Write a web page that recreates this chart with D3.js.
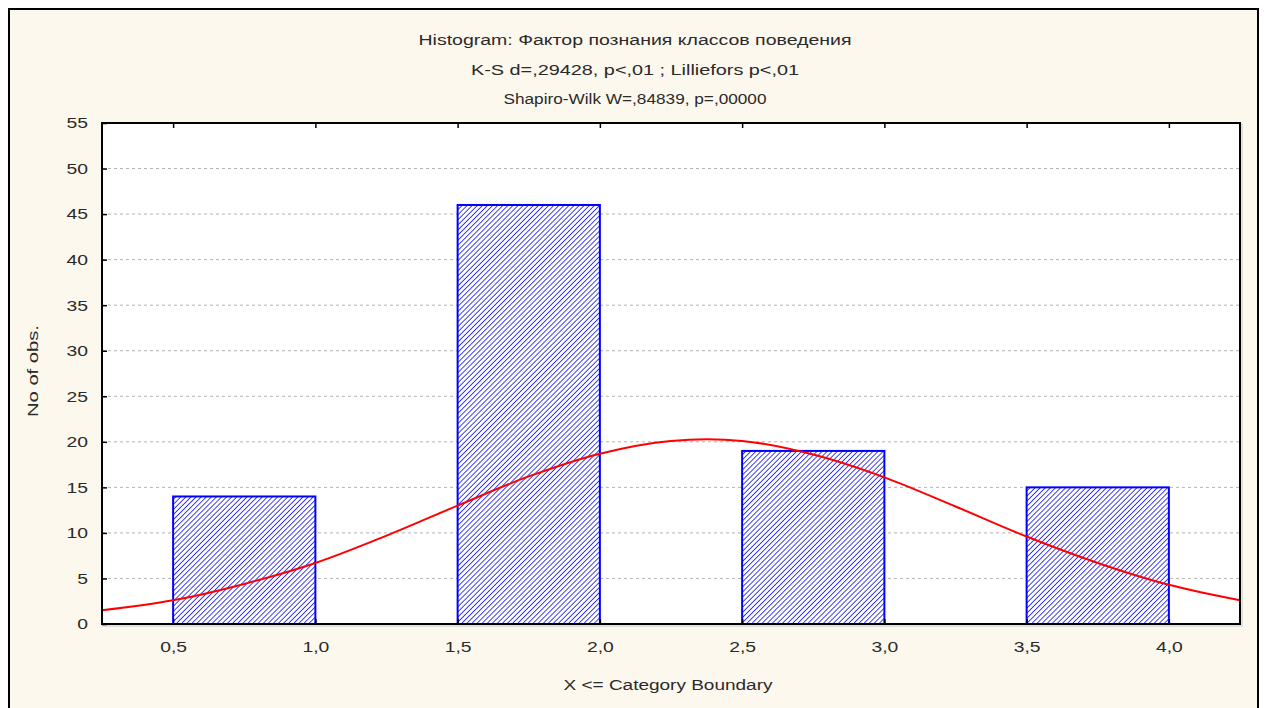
<!DOCTYPE html>
<html><head><meta charset="utf-8">
<script src="https://cdn.jsdelivr.net/npm/d3@7"></script>
<style>
html,body{margin:0;padding:0;background:#fff;}
text{font-family:"Liberation Sans",Arial,sans-serif;fill:#2a2a2a;}
</style></head>
<body>
<svg id="chart" width="1270" height="708"></svg>
<script>
// ---- data ----
const binLower = [0.5, 1.5, 2.5, 3.5];
const binUpper = [1.0, 2.0, 3.0, 4.0];
const counts = [14, 46, 19, 15];
// expected normal curve
const curveX = [0.25,0.5,0.75,1.0,1.25,1.5,1.75,2.0,2.25,2.5,2.75,3.0,3.25,3.5,3.75,4.0,4.25];
const curveY = [1.5,2.6,4.4,6.7,9.7,13.0,16.2,18.7,20.1,20.1,18.6,16.1,12.9,9.6,6.7,4.3,2.6];
const xTicks = [0.5,1.0,1.5,2.0,2.5,3.0,3.5,4.0];
const yTicks = [0,5,10,15,20,25,30,35,40,45,50,55];
const titles = ["Histogram: Фактор познания классов поведения",
                "K-S d=,29428, p<,01 ; Lilliefors p<,01",
                "Shapiro-Wilk W=,84839, p=,00000"];
const xLabel = "X <= Category Boundary";
const yLabel = "No of obs.";

const svg = d3.select("#chart");
const L = 102, R = 1240, T = 123, B = 624;
const SX = 1.38; // horizontal text stretch

// outer panel
svg.append("rect").attr("x",9).attr("y",9).attr("width",1249).attr("height",720)
  .attr("fill","#fdf8ee").attr("stroke","#000").attr("stroke-width",2);

const x = d3.scaleLinear().domain([0.25,4.25]).range([L,R]);
const y = d3.scaleLinear().domain([0,55]).range([B,T]);

// plot background
svg.append("rect").attr("x",L+1).attr("y",T+1).attr("width",R-L+1).attr("height",B-T+1)
  .attr("fill","none").attr("stroke","#c8c8c8").attr("stroke-width",1);
svg.append("rect").attr("x",L).attr("y",T).attr("width",R-L).attr("height",B-T).attr("fill","#fff");

// gridlines
svg.append("g").selectAll("line").data(yTicks.filter(d=>d>0 && d<55)).join("line")
  .attr("x1",L).attr("x2",R).attr("y1",d=>y(d)).attr("y2",d=>y(d))
  .attr("stroke","#b4b4b4").attr("stroke-width",1).attr("stroke-dasharray","3,3");

// hatch pattern
const defs = svg.append("defs");
const pat = defs.append("pattern").attr("id","hatch").attr("patternUnits","userSpaceOnUse")
  .attr("width",3.6).attr("height",3.6).attr("patternTransform","rotate(45)");
pat.append("rect").attr("width",3.6).attr("height",3.6).attr("fill","#fff");
pat.append("line").attr("x1",0).attr("y1",0).attr("x2",0).attr("y2",3.6)
  .attr("stroke","#1010f0").attr("stroke-width",1.6);

// bars
svg.append("g").selectAll("rect").data(counts).join("rect")
  .attr("x",(d,i)=>x(binLower[i])).attr("width",(d,i)=>x(binUpper[i])-x(binLower[i]))
  .attr("y",d=>y(d)).attr("height",d=>y(0)-y(d))
  .attr("fill","url(#hatch)").attr("stroke","#0000ff").attr("stroke-width",2);

// normal curve
const pts = curveX.map((v,i)=>[v,curveY[i]]);
svg.append("path").datum(pts)
  .attr("d",d3.line().x(d=>x(d[0])).y(d=>y(d[1])).curve(d3.curveCatmullRom))
  .attr("fill","none").attr("stroke","#ff0000").attr("stroke-width",2);

// axes
const yAxis = svg.append("g").attr("transform",`translate(${L},0)`)
  .call(d3.axisLeft(y).tickValues(yTicks).tickSize(-5).tickPadding(14).tickFormat(d3.format("d")));
yAxis.select(".domain").remove();
yAxis.selectAll(".tick line").attr("stroke","#000").attr("stroke-width",1.5);
yAxis.selectAll(".tick text").attr("x",null).attr("dy","0.35em")
  .attr("text-anchor","end").attr("font-size",14)
  .attr("transform",`translate(-14,0) scale(${SX},1)`);

const fmt = d => d.toFixed(1).replace(".",",");
const xAxis = svg.append("g").attr("transform",`translate(0,${B})`)
  .call(d3.axisBottom(x).tickValues(xTicks).tickSize(-5).tickPadding(18).tickFormat(fmt));
xAxis.select(".domain").remove();
xAxis.selectAll(".tick line").attr("stroke","#000").attr("stroke-width",1.5);
xAxis.selectAll(".tick text").attr("font-size",14).attr("dy","0.71em")
  .attr("transform",`scale(${SX},1)`);

const xTop = svg.append("g").attr("transform",`translate(0,${T})`)
  .call(d3.axisTop(x).tickValues(xTicks).tickSize(-5).tickFormat(""));
xTop.select(".domain").remove();
xTop.selectAll(".tick line").attr("stroke","#000").attr("stroke-width",1.5);

// frame
svg.append("rect").attr("x",L).attr("y",T).attr("width",R-L).attr("height",B-T)
  .attr("fill","none").attr("stroke","#000").attr("stroke-width",2);

// titles
const tl = [[433,45],[328,75],[263,104]];
svg.append("g").selectAll("text").data(titles).join("text")
  .attr("x",635).attr("y",(d,i)=>tl[i][1]).attr("text-anchor","middle")
  .attr("font-size",14).attr("textLength",(d,i)=>tl[i][0]).attr("lengthAdjust","spacingAndGlyphs")
  .text(d=>d);

// axis labels
svg.append("text").attr("x",668).attr("y",690).attr("text-anchor","middle")
  .attr("font-size",14).attr("textLength",209).attr("lengthAdjust","spacingAndGlyphs").text(xLabel);
svg.append("text").attr("transform","translate(38,371) rotate(-90)").attr("text-anchor","middle")
  .attr("font-size",14).attr("textLength",92).attr("lengthAdjust","spacingAndGlyphs").text(yLabel);
</script>
</body></html>
